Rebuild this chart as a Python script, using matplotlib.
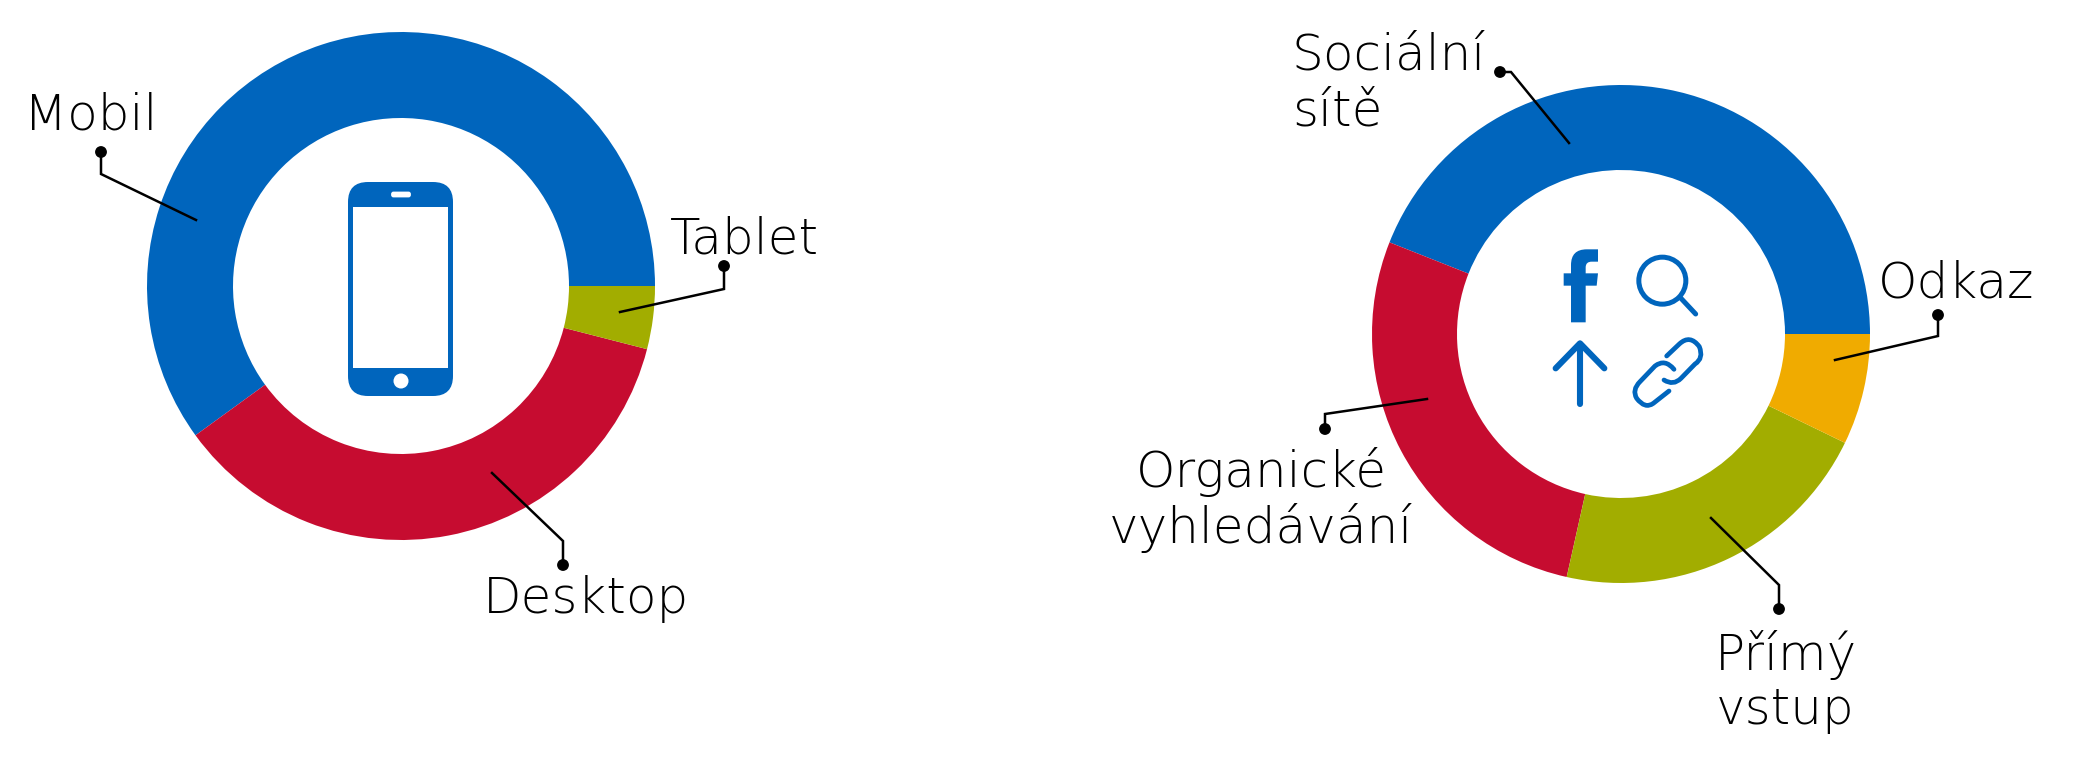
from matplotlib.patches import Circle, FancyBboxPatch, PathPatch, Rectangle
from matplotlib.path import Path
import matplotlib.pyplot as plt

W, H = 2076, 776

device_labels = ["Mobil", "Desktop", "Tablet"]
device_share = [60, 36, 4]
device_colors = ["#0065bd", "#c60c30", "#a2ad00"]

source_labels = ["Sociální sítě", "Organické vyhledávání", "Přímý vstup", "Odkaz"]
source_share = [44, 27.5, 21.3, 7.2]
source_colors = ["#0065bd", "#c60c30", "#a2ad00", "#f0ab00"]

plt.rcParams["font.family"] = ["DejaVu Sans"]
BLUE = "#0065bd"
TEXT = "black"


def donut(fig, values, colors, cx, cy, r_out, r_in):
    ax = fig.add_axes([(cx - r_out) / W, 1 - (cy + r_out) / H, 2 * r_out / W, 2 * r_out / H])
    ax.pie(values, colors=colors, startangle=0, counterclock=True, radius=1,
           wedgeprops={"width": 1 - r_in / r_out, "linewidth": 0, "clip_on": False})
    ax.set_xlim(-1, 1)
    ax.set_ylim(-1, 1)
    ax.axis("off")


def leader(ax, dot, elbow, end):
    ax.plot([dot[0], elbow[0], end[0]], [dot[1], elbow[1], end[1]], color="black", lw=1.8,
            solid_joinstyle="miter", zorder=5)
    ax.add_patch(Circle(dot, 5.2, color="black", zorder=6))


def label(ax, x, y, s, ha="left"):
    ax.text(x, y, s, fontsize=36, fontweight=200, color=TEXT, ha=ha, va="baseline")


def phone_icon(ax):
    ax.add_patch(FancyBboxPatch((368, 202), 65, 174, boxstyle="round,pad=20,rounding_size=20",
                                fc=BLUE, ec="none", zorder=4))
    ax.add_patch(Rectangle((353, 207), 95, 161, fc="white", ec="none", zorder=5))
    ax.add_patch(FancyBboxPatch((393.5, 194), 15, 1, boxstyle="round,pad=2.4,rounding_size=2.4",
                                fc="white", ec="none", zorder=5))
    ax.add_patch(Circle((401, 381), 7.5, fc="white", ec="none", zorder=5))


def z(x, y):
    # zoomed crop coords -> figure pixels
    return 1520 + x / 3, 230 + y / 3


def stroke(ax, pts, codes, lw):
    p = Path([z(*q) for q in pts], codes)
    ax.add_patch(PathPatch(p, fc="none", ec=BLUE, lw=lw, capstyle="round", joinstyle="round", zorder=5))


def source_icons(ax):
    M, L, C, X = Path.MOVETO, Path.LINETO, Path.CURVE3, Path.CLOSEPOLY
    # facebook f
    f_pts = [(153, 277), (153, 167), (131, 167), (131, 130), (153, 130), (153, 105), (153, 58), (200, 58),
             (234, 58), (234, 95), (215, 95), (197, 95), (197, 112), (197, 130), (234, 130), (230, 167),
             (197, 167), (197, 277), (153, 277)]
    f_codes = [M, L, L, L, L, L, C, C, L, L, L, C, C, L, L, L, L, L, X]
    ax.add_patch(PathPatch(Path([z(*q) for q in f_pts], f_codes), fc=BLUE, ec="none", zorder=5))
    # search
    cx, cy = z(427, 152)
    ax.add_patch(Circle((cx, cy), 23.5, fc="none", ec=BLUE, lw=3.6, zorder=5))
    stroke(ax, [(483, 205), (527, 252)], [M, L], 3.6)
    # arrow
    stroke(ax, [(180, 523), (180, 345)], [M, L], 4.4)
    stroke(ax, [(107, 415), (180, 340), (253, 415)], [M, L, L], 4.4)
    # chain link
    stroke(ax, [(440, 378), (478, 342), (510, 312), (538, 350), (552, 385), (525, 402), (483, 445),
                (460, 468), (432, 450)],
           [M, L, C, C, C, C, L, C, C], 3.4)
    stroke(ax, [(447, 483), (400, 520), (375, 538), (350, 505), (335, 480), (360, 455), (405, 408),
                (435, 385), (462, 418)],
           [M, L, C, C, C, C, L, C, C], 3.4)


fig = plt.figure(figsize=(W / 100, H / 100), dpi=100, facecolor="white")

donut(fig, device_share, device_colors, 401, 286, 254, 168)
donut(fig, source_share, source_colors, 1621, 334, 249, 164)

ov = fig.add_axes([0, 0, 1, 1], zorder=10)
ov.set_xlim(0, W)
ov.set_ylim(H, 0)
ov.axis("off")
ov.patch.set_alpha(0)

leader(ov, (101, 152), (101, 174), (196, 220))
leader(ov, (724, 266), (724, 289), (620, 312))
leader(ov, (563, 565), (563, 541), (492, 473))
leader(ov, (1500, 72), (1511, 72), (1569, 143))
leader(ov, (1938, 315), (1938, 336), (1835, 360))
leader(ov, (1325, 429), (1325, 414), (1427, 399))
leader(ov, (1779, 609), (1779, 585), (1711, 518))

label(ov, 24, 129, "Mobil")
label(ov, 670, 253, "Tablet")
label(ov, 483, 613, "Desktop")
label(ov, 1291, 70, "Sociální")
label(ov, 1292, 126, "sítě")
label(ov, 1878, 297, "Odkaz")
label(ov, 1261, 487, "Organické", ha="center")
label(ov, 1261, 543, "vyhledávání", ha="center")
label(ov, 1715, 670, "Přímý")
label(ov, 1716, 724, "vstup")

phone_icon(ov)
source_icons(ov)

fig.savefig("out.png", dpi=100)
